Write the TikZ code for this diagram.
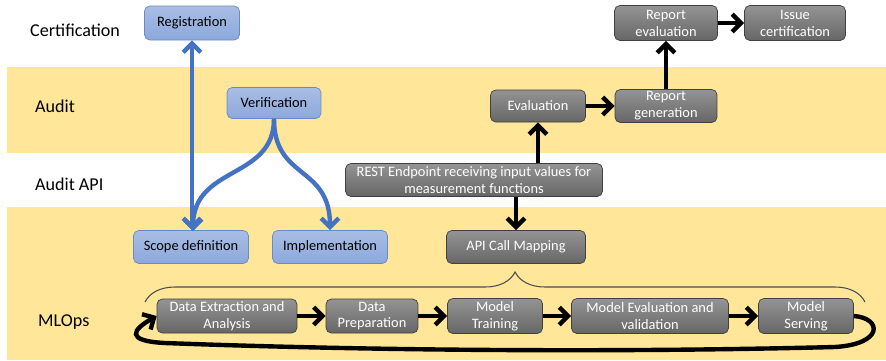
\documentclass[tikz,border=0pt]{standalone}
\usepackage{fontspec}
\setmainfont{Carlito}
\usetikzlibrary{positioning,arrows.meta,decorations.pathreplacing}
\definecolor{bandyellow}{RGB}{255,230,153}
\definecolor{boxblue}{RGB}{140,168,220}
\definecolor{boxblueline}{RGB}{105,138,198}
\definecolor{arrowblue}{RGB}{68,114,196}

\begin{document}
\begin{tikzpicture}[
    x=0.02cm,
    y=-0.02cm,
    >={Straight Barb[length=5pt,width=10pt]},
    lane/.style = {
      anchor = west,
      font = \fontsize{10.3}{12}\selectfont
    },
    box/.style = {
      rounded corners = 3pt,
      minimum height = 0.66cm,
      inner xsep = 1pt,
      inner ysep = 0.5pt,
      align = center,
      font = \fontsize{8.2}{9.6}\selectfont
    },
    bluebox/.style = {
      box,
      draw = boxblueline,
      top color = boxblue!75!white,
      bottom color = boxblue
    },
    graybox/.style = {
      box,
      draw = black!75,
      top color = black!42,
      bottom color = black!60,
      text = white
    },
    blueflow/.style = {line width = 2.5pt, arrowblue},
    flow/.style = {->, line width = 2.5pt}
  ]
  \useasboundingbox (0,0) rectangle (886,360);
  % lanes
  \fill[bandyellow] (7,67) rectangle (886,153);
  \fill[bandyellow] (7,207) rectangle (886,360);
  \node[lane] (certlane) at (24,30) {Certification};
  \node[lane] (auditlane) at (29,106) {Audit};
  \node[lane] (apilane) at (29,184) {Audit API};
  \node[lane] (mloplane) at (32,322) {MLOps};

  % audit process
  \node[bluebox, minimum width=1.9cm, minimum height=0.68cm] (reg) at (192,23) {Registration};
  \node[bluebox, minimum width=1.88cm, minimum height=0.62cm] (ver) at (274,103) {Verification};
  \node[bluebox, minimum width=2.3cm] (scope) at (191,247) {Scope definition};
  \node[bluebox, minimum width=2.3cm] (impl) at (330,247) {Implementation};

  \draw[blueflow, <->] (reg.south) -- (reg.south |- scope.north);
  \draw[blueflow, ->] (ver.south) .. controls (274,180) and (193,165) .. (193,231);
  \draw[blueflow, ->] (ver.south) .. controls (274,180) and (330,165) .. (impl.north);

  % audit API
  \node[graybox, minimum width=2.06cm, minimum height=0.7cm] (repeval) at (666,23) {Report\\evaluation};
  \node[graybox, minimum width=2.02cm, minimum height=0.7cm] (issue) at (795,23) {Issue\\certification};
  \node[graybox, minimum width=1.9cm, minimum height=0.64cm] (eval) at (538,106) {Evaluation};
  \node[graybox, minimum width=2.04cm] (repgen) at (666,106) {Report\\generation};
  \node[graybox, minimum width=5.14cm] (rest) at (474,180) {REST Endpoint receiving input values for\\measurement functions};
  \node[graybox, minimum width=2.78cm] (apimap) at (516,247) {API Call Mapping};

  \draw[flow] (rest.north -| eval.south) -- (eval.south);
  \draw[flow] (rest.south -| apimap.north) -- (apimap.north);
  \draw[flow] (eval.east) -- (repgen.west);
  \draw[flow] (repgen.north) -- (repeval.south);
  \draw[flow] (repeval.east) -- (issue.west);

  % MLOps pipeline
  \node[graybox, minimum width=2.8cm, minimum height=0.68cm] (dext) at (227,316) {Data Extraction and\\Analysis};
  \node[graybox, minimum width=1.84cm, minimum height=0.68cm] (dprep) at (372,316) {Data\\Preparation};
  \node[graybox, minimum width=1.9cm, minimum height=0.7cm] (mtrain) at (495,316) {Model\\Training};
  \node[graybox, minimum width=3.14cm, minimum height=0.7cm] (meval) at (650,316) {Model Evaluation and\\validation};
  \node[graybox, minimum width=1.9cm, minimum height=0.7cm] (mserve) at (806,316) {Model\\Serving};

  \draw[flow] (dext.east) -- (dprep.west);
  \draw[flow] (dprep.east) -- (mtrain.west);
  \draw[flow] (mtrain.east) -- (meval.west);
  \draw[flow] (meval.east) -- (mserve.west);
  \draw[flow] (mserve.east) .. controls (882,318) and (884,344) .. (835,347)
    .. controls (600,353) and (350,350) .. (165,343)
    .. controls (125,341) and (132,330) .. (dext.west);

  \coordinate (bracel) at (145,302);
  \coordinate (bracer) at (865,302);
  \draw[black!70, line width=0.6pt, decorate,
    decoration={brace, amplitude=0.6cm, aspect=0.514}] (bracel) -- (bracer);
\end{tikzpicture}
\end{document}
